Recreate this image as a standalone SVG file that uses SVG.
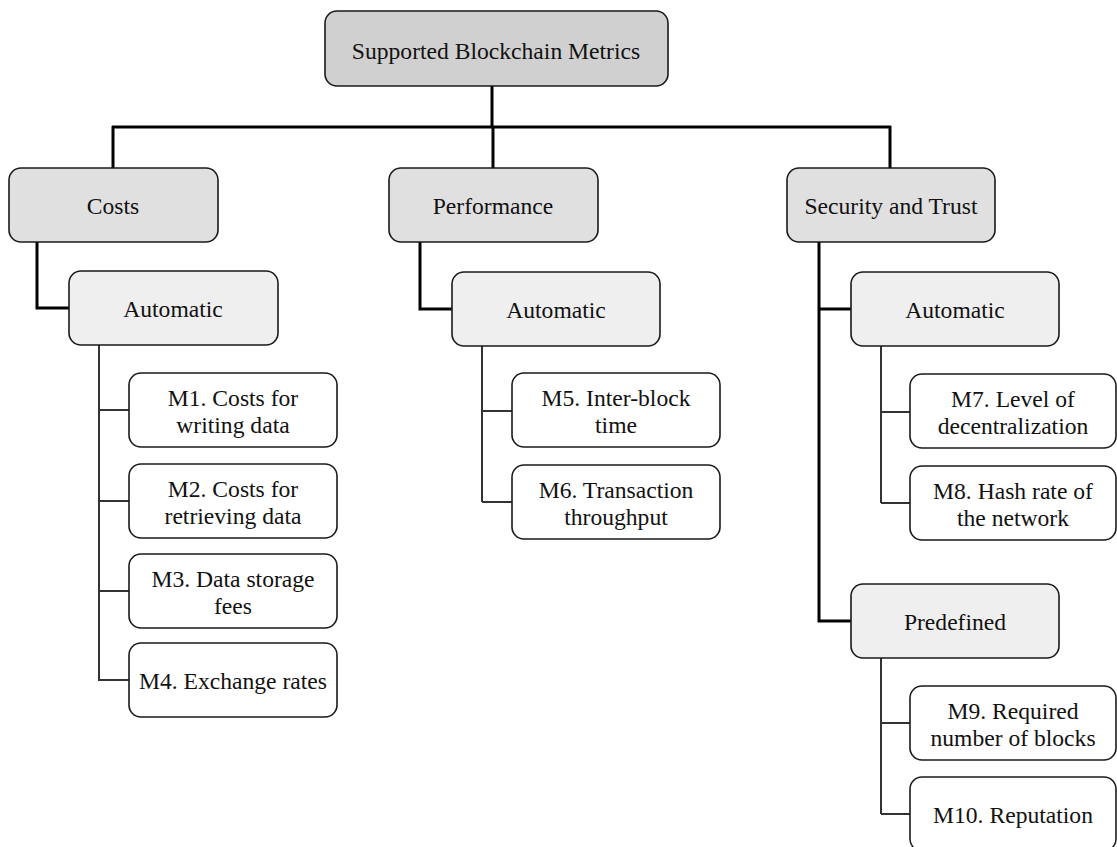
<svg xmlns="http://www.w3.org/2000/svg" width="1117" height="847" viewBox="0 0 1117 847">
<style>
.box{stroke:#1a1a1a;stroke-width:1.6}
.l0{fill:#d0d0d0}
.l1{fill:#e0e0e0}
.l2{fill:#efefef}
.l3{fill:#ffffff}
text{font-family:"Liberation Serif","Times New Roman",serif;font-size:23.6px;fill:#111;text-anchor:middle}
.thick{stroke:#000;stroke-width:3;fill:none}
.thin{stroke:#333;stroke-width:2;fill:none}
</style>
<rect width="1117" height="847" fill="#fff"/>
<g id="connectors">
<path class="thick" d="M492,86 V127 M112,127 H891 M113,126 V168 M493,126 V168 M890,126 V168"/>
<path class="thick" d="M37,242 V308 H69 M420,242 V309 H452 M819,242 V621 H851 M819,309 H851"/>
<path class="thin" d="M99,345 V681 M99,410 H129 M99,501 H129 M99,591 H129 M99,680 H129"/>
<path class="thin" d="M482,346 V502 M482,411 H512 M482,502 H512"/>
<path class="thin" d="M881,346 V503 M881,412 H910 M881,503 H910"/>
<path class="thin" d="M881,658 V814 M881,723 H910 M881,814 H910"/>
</g>
<g id="root"><rect class="box l0" x="325" y="11" width="343" height="75" rx="12"/><text x="496" y="59">Supported Blockchain Metrics</text></g>
<g id="costs"><rect class="box l1" x="9" y="168" width="209" height="74" rx="12"/><text x="113" y="214">Costs</text></g>
<g id="performance"><rect class="box l1" x="389" y="168" width="209" height="74" rx="12"/><text x="493" y="214">Performance</text></g>
<g id="security"><rect class="box l1" x="787" y="168" width="208" height="74" rx="12"/><text x="891" y="214">Security and Trust</text></g>
<g id="costs-automatic"><rect class="box l2" x="69" y="271" width="209" height="74" rx="12"/><text x="173" y="317">Automatic</text></g>
<g id="performance-automatic"><rect class="box l2" x="452" y="272" width="208" height="74" rx="12"/><text x="556" y="318">Automatic</text></g>
<g id="security-automatic"><rect class="box l2" x="851" y="272" width="208" height="74" rx="12"/><text x="955" y="318">Automatic</text></g>
<g id="security-predefined"><rect class="box l2" x="851" y="584" width="208" height="74" rx="12"/><text x="955" y="630">Predefined</text></g>
<g id="m1"><rect class="box l3" x="129" y="373" width="208" height="74" rx="12"/><text x="233" y="406">M1. Costs for</text><text x="233" y="433">writing data</text></g>
<g id="m2"><rect class="box l3" x="129" y="464" width="208" height="74" rx="12"/><text x="233" y="497">M2. Costs for</text><text x="233" y="524">retrieving data</text></g>
<g id="m3"><rect class="box l3" x="129" y="554" width="208" height="74" rx="12"/><text x="233" y="587">M3. Data storage</text><text x="233" y="614">fees</text></g>
<g id="m4"><rect class="box l3" x="129" y="643" width="208" height="74" rx="12"/><text x="233" y="689">M4. Exchange rates</text></g>
<g id="m5"><rect class="box l3" x="512" y="373" width="208" height="74" rx="12"/><text x="616" y="406">M5. Inter-block</text><text x="616" y="433">time</text></g>
<g id="m6"><rect class="box l3" x="512" y="465" width="208" height="74" rx="12"/><text x="616" y="498">M6. Transaction</text><text x="616" y="525">throughput</text></g>
<g id="m7"><rect class="box l3" x="910" y="374" width="206" height="74" rx="12"/><text x="1013" y="407">M7. Level of</text><text x="1013" y="434">decentralization</text></g>
<g id="m8"><rect class="box l3" x="910" y="466" width="206" height="74" rx="12"/><text x="1013" y="499">M8. Hash rate of</text><text x="1013" y="526">the network</text></g>
<g id="m9"><rect class="box l3" x="910" y="686" width="206" height="74" rx="12"/><text x="1013" y="719">M9. Required</text><text x="1013" y="746">number of blocks</text></g>
<g id="m10"><rect class="box l3" x="910" y="777" width="206" height="74" rx="12"/><text x="1013" y="823">M10. Reputation</text></g>
</svg>
